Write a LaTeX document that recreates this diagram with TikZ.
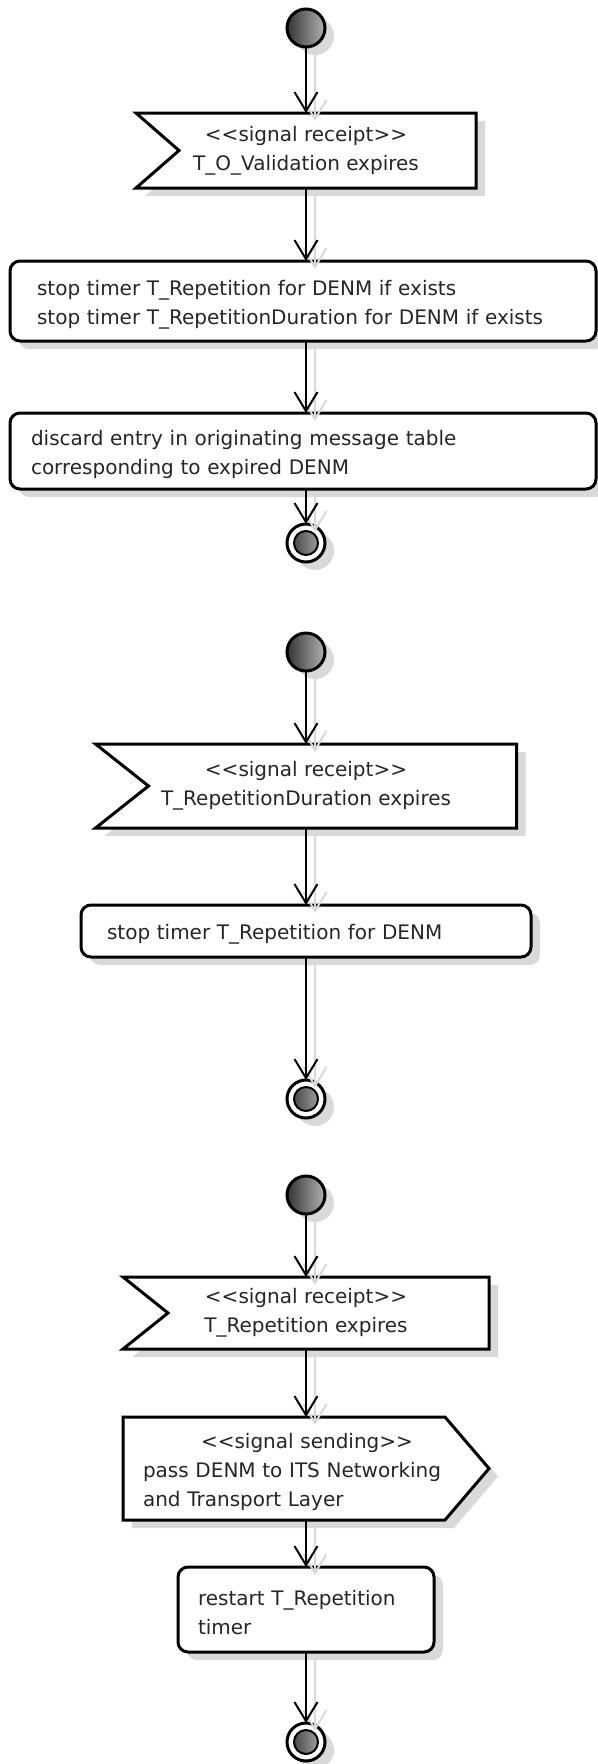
\documentclass[tikz,border=0pt]{standalone}
\usepackage{fontspec}
\setmainfont{DejaVu Sans}
\usetikzlibrary{positioning,arrows.meta,shadows,backgrounds}

\tikzset{
	umlfont/.style={font=\fontsize{20}{29}\selectfont,text=black!85,execute at begin node={\rule{0pt}{22pt}}},
	umlshadow/.style={drop shadow={shadow xshift=9pt,shadow yshift=-8pt,fill=black!15,opacity=1}},
	startnode/.style={circle,draw,line width=3pt,minimum size=38pt,inner sep=0pt,outer sep=0pt,
		left color=black!80,right color=black!30,umlshadow},
	endnode/.style={circle,draw,line width=3pt,minimum size=38pt,inner sep=0pt,outer sep=0pt,
		fill=white,umlshadow,
		path picture={\shade[left color=black!80,right color=black!30] (path picture bounding box.center) circle (12pt);
			\draw[line width=2pt] (path picture bounding box.center) circle (12pt);}},
	action/.style={rectangle,rounded corners=10pt,draw,line width=3pt,fill=white,umlfont,
		align=left,inner sep=0pt,outer sep=0pt,umlshadow},
	signaltext/.style={umlfont,align=center,inner sep=0pt,outer sep=0pt},
	sendtext/.style={umlfont,align=left,inner sep=0pt,outer sep=0pt},
	signalline/.style={draw,line width=3pt,fill=white,line join=miter,umlshadow},
	flow/.style={-{Straight Barb[length=19pt,width=23pt]},line width=2pt},
	flowshadow/.style={flow,draw=black!15,transform canvas={shift={(9pt,-8pt)}}}
}

\begin{document}
\begin{tikzpicture}
	\useasboundingbox (0,0) rectangle (597pt,-1764pt);

	% first chart
	\node (start1)[startnode] at (306pt,-28pt){};
	\node (recv1)[signaltext,minimum width=340pt,minimum height=75pt,below=66pt of start1]{<{}<signal receipt>{}>\\
		T\_O\_Validation expires};
	\node (stop1)[action,minimum width=586pt,minimum height=80pt,text width=532pt,below=73pt of recv1,xshift=-3pt]{stop timer T\_Repetition for DENM if exists\\
		stop timer T\_RepetitionDuration for DENM if exists};
	\node (discard1)[action,minimum width=586pt,minimum height=76pt,text width=544pt,below=72pt of stop1]{discard entry in originating message table\\
		corresponding to expired DENM};
	\node (end1)[endnode,below=35pt of discard1,xshift=3pt]{};

	% second chart
	\node (start2)[startnode,below=71pt of end1]{};
	\node (recv2)[signaltext,minimum width=421pt,minimum height=84pt,below=73pt of start2]{<{}<signal receipt>{}>\\
		T\_RepetitionDuration expires};
	\node (stop2)[action,minimum width=450pt,minimum height=52pt,text width=398pt,below=77pt of recv2]{stop timer T\_Repetition for DENM};
	\node (end2)[endnode,below=123pt of stop2]{};

	% third chart
	\node (start3)[startnode,below=58pt of end2]{};
	\node (recv3)[signaltext,minimum width=366pt,minimum height=72pt,below=63pt of start3]{<{}<signal receipt>{}>\\
		T\_Repetition expires};
	\node (send3)[sendtext,minimum width=366pt,minimum height=103pt,text width=326pt,below=68pt of recv3]{\hspace*{58pt}<{}<signal sending>{}>\\
		pass DENM to ITS Networking\\
		and Transport Layer};
	\node (restart3)[action,minimum width=256pt,minimum height=85pt,text width=216pt,below=47pt of send3]{restart T\_Repetition\\
		timer};
	\node (end3)[endnode,below=71pt of restart3]{};

	% outlines of the signals
	\begin{scope}[on background layer]
		\draw[signalline] (recv1.north west) -- (recv1.north east) -- (recv1.south east) -- (recv1.south west) -- ([xshift=43pt]recv1.west) -- cycle;
		\draw[signalline] (recv2.north west) -- (recv2.north east) -- (recv2.south east) -- (recv2.south west) -- ([xshift=53pt]recv2.west) -- cycle;
		\draw[signalline] (recv3.north west) -- (recv3.north east) -- (recv3.south east) -- (recv3.south west) -- ([xshift=45pt]recv3.west) -- cycle;
		\draw[signalline] (send3.north west) -- ([xshift=-44pt]send3.north east) -- (send3.east) -- ([xshift=-44pt]send3.south east) -- (send3.south west) -- cycle;
	\end{scope}

	% shadows of the connections
	\draw[flowshadow] (start1)--(recv1);
	\draw[flowshadow] (recv1)--(recv1 |- stop1.north);
	\draw[flowshadow] (recv1 |- stop1.south)--(recv1 |- discard1.north);
	\draw[flowshadow] (end1 |- discard1.south)--(end1);
	\draw[flowshadow] (start2)--(recv2);
	\draw[flowshadow] (recv2)--(stop2);
	\draw[flowshadow] (stop2)--(end2);
	\draw[flowshadow] (start3)--(recv3);
	\draw[flowshadow] (recv3)--(send3);
	\draw[flowshadow] (send3)--(restart3);
	\draw[flowshadow] (restart3)--(end3);

	% draw the connections
	\draw[flow] (start1)--(recv1);
	\draw[flow] (recv1)--(recv1 |- stop1.north);
	\draw[flow] (recv1 |- stop1.south)--(recv1 |- discard1.north);
	\draw[flow] (end1 |- discard1.south)--(end1);
	\draw[flow] (start2)--(recv2);
	\draw[flow] (recv2)--(stop2);
	\draw[flow] (stop2)--(end2);
	\draw[flow] (start3)--(recv3);
	\draw[flow] (recv3)--(send3);
	\draw[flow] (send3)--(restart3);
	\draw[flow] (restart3)--(end3);
\end{tikzpicture}
\end{document}
